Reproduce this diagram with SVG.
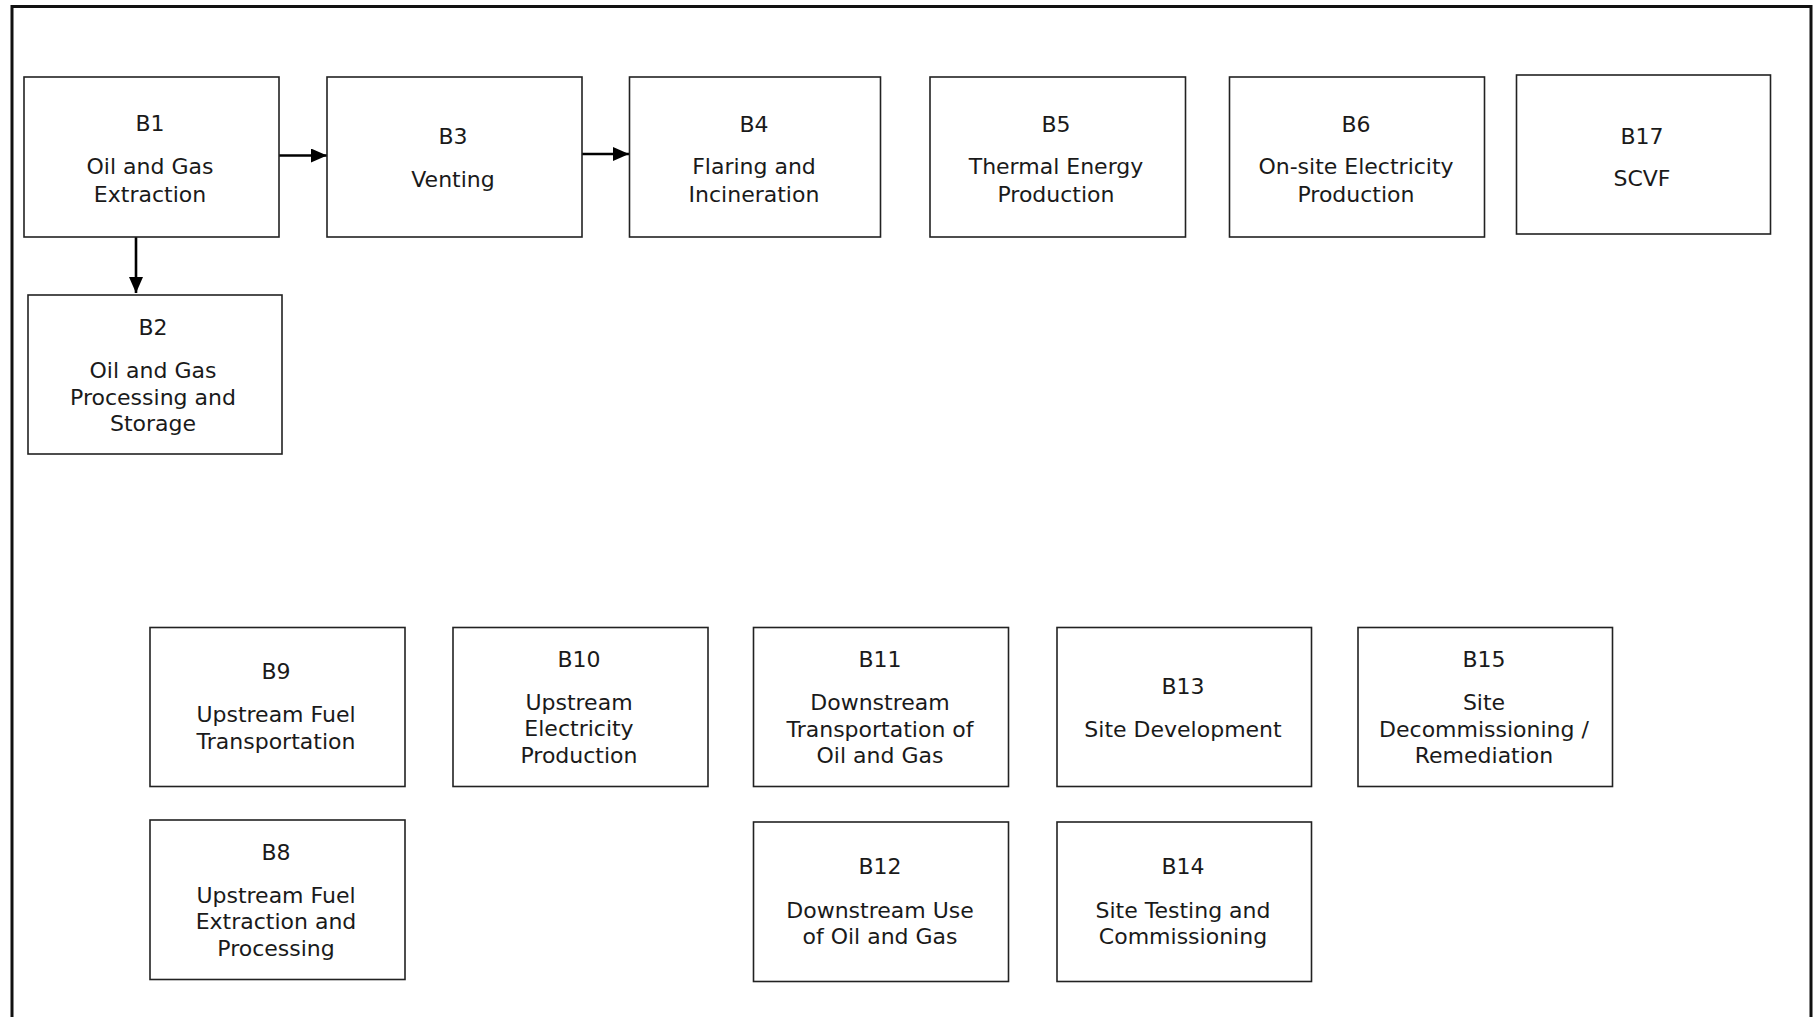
<svg xmlns="http://www.w3.org/2000/svg" width="1818" height="1017" viewBox="0 0 1818 1017">
<style>
.box{fill:#fff;stroke:#222;stroke-width:1.6}
.t{font-family:"DejaVu Sans",Verdana,sans-serif;font-size:22px;fill:#1a1a1a;text-anchor:middle}
.conn{stroke:#000;stroke-width:2.6;fill:none}
</style>
<defs>
<marker id="ah" viewBox="0 0 16 14" refX="16" refY="7" markerWidth="16" markerHeight="14" markerUnits="userSpaceOnUse" orient="auto">
<path d="M0,0 L16,7 L0,14 z" fill="#000"/>
</marker>
</defs>
<rect width="1818" height="1017" fill="#fff"/>
<path d="M12,1020 V6.5 H1811 V1020" fill="none" stroke="#111" stroke-width="3"/>

<g id="connectors">
<path class="conn" d="M279,155.5 H327" marker-end="url(#ah)"/>
<path class="conn" d="M581,154 H629" marker-end="url(#ah)"/>
<path class="conn" d="M136,237 V293" marker-end="url(#ah)"/>
</g>

<g id="B1">
<rect class="box" x="24" y="77" width="255" height="160"/>
<text class="t" x="150" y="130.5">B1</text>
<text class="t" x="150" y="174">Oil and Gas</text>
<text class="t" x="150" y="201.5">Extraction</text>
</g>
<g id="B3">
<rect class="box" x="327" y="77" width="255" height="160"/>
<text class="t" x="453" y="144">B3</text>
<text class="t" x="453" y="186.5">Venting</text>
</g>
<g id="B4">
<rect class="box" x="629.5" y="77" width="251" height="160"/>
<text class="t" x="754" y="131.5">B4</text>
<text class="t" x="754" y="174">Flaring and</text>
<text class="t" x="754" y="201.5">Incineration</text>
</g>
<g id="B5">
<rect class="box" x="930" y="77" width="255.5" height="160"/>
<text class="t" x="1056" y="131.5">B5</text>
<text class="t" x="1056" y="174">Thermal Energy</text>
<text class="t" x="1056" y="201.5">Production</text>
</g>
<g id="B6">
<rect class="box" x="1229.5" y="77" width="255" height="160"/>
<text class="t" x="1356" y="131.5">B6</text>
<text class="t" x="1356" y="174">On-site Electricity</text>
<text class="t" x="1356" y="201.5">Production</text>
</g>
<g id="B17">
<rect class="box" x="1516.5" y="75" width="254" height="159"/>
<text class="t" x="1642" y="143.5">B17</text>
<text class="t" x="1642" y="185.5">SCVF</text>
</g>
<g id="B2">
<rect class="box" x="28" y="295" width="254" height="159"/>
<text class="t" x="153" y="335">B2</text>
<text class="t" x="153" y="378">Oil and Gas</text>
<text class="t" x="153" y="404.5">Processing and</text>
<text class="t" x="153" y="430.5">Storage</text>
</g>

<g id="B9">
<rect class="box" x="150" y="627.5" width="255" height="159"/>
<text class="t" x="276" y="679">B9</text>
<text class="t" x="276" y="721.5">Upstream Fuel</text>
<text class="t" x="276" y="749">Transportation</text>
</g>
<g id="B10">
<rect class="box" x="453" y="627.5" width="255" height="159"/>
<text class="t" x="579" y="666.5">B10</text>
<text class="t" x="579" y="709.5">Upstream</text>
<text class="t" x="579" y="736">Electricity</text>
<text class="t" x="579" y="762.5">Production</text>
</g>
<g id="B11">
<rect class="box" x="753.5" y="627.5" width="255" height="159"/>
<text class="t" x="880" y="666.5">B11</text>
<text class="t" x="880" y="710">Downstream</text>
<text class="t" x="880" y="736.5">Transportation of</text>
<text class="t" x="880" y="762.5">Oil and Gas</text>
</g>
<g id="B13">
<rect class="box" x="1057" y="627.5" width="254.5" height="159"/>
<text class="t" x="1183" y="694">B13</text>
<text class="t" x="1183" y="736.5">Site Development</text>
</g>
<g id="B15">
<rect class="box" x="1358" y="627.5" width="254.5" height="159"/>
<text class="t" x="1484" y="666.5">B15</text>
<text class="t" x="1484" y="710">Site</text>
<text class="t" x="1484" y="736.5">Decommissioning /</text>
<text class="t" x="1484" y="762.5">Remediation</text>
</g>
<g id="B8">
<rect class="box" x="150" y="820" width="255" height="159.5"/>
<text class="t" x="276" y="860">B8</text>
<text class="t" x="276" y="902.5">Upstream Fuel</text>
<text class="t" x="276" y="929">Extraction and</text>
<text class="t" x="276" y="955.5">Processing</text>
</g>
<g id="B12">
<rect class="box" x="753.5" y="822" width="255" height="159.5"/>
<text class="t" x="880" y="874">B12</text>
<text class="t" x="880" y="917.5">Downstream Use</text>
<text class="t" x="880" y="944">of Oil and Gas</text>
</g>
<g id="B14">
<rect class="box" x="1057" y="822" width="254.5" height="159.5"/>
<text class="t" x="1183" y="874">B14</text>
<text class="t" x="1183" y="917.5">Site Testing and</text>
<text class="t" x="1183" y="944">Commissioning</text>
</g>
</svg>
